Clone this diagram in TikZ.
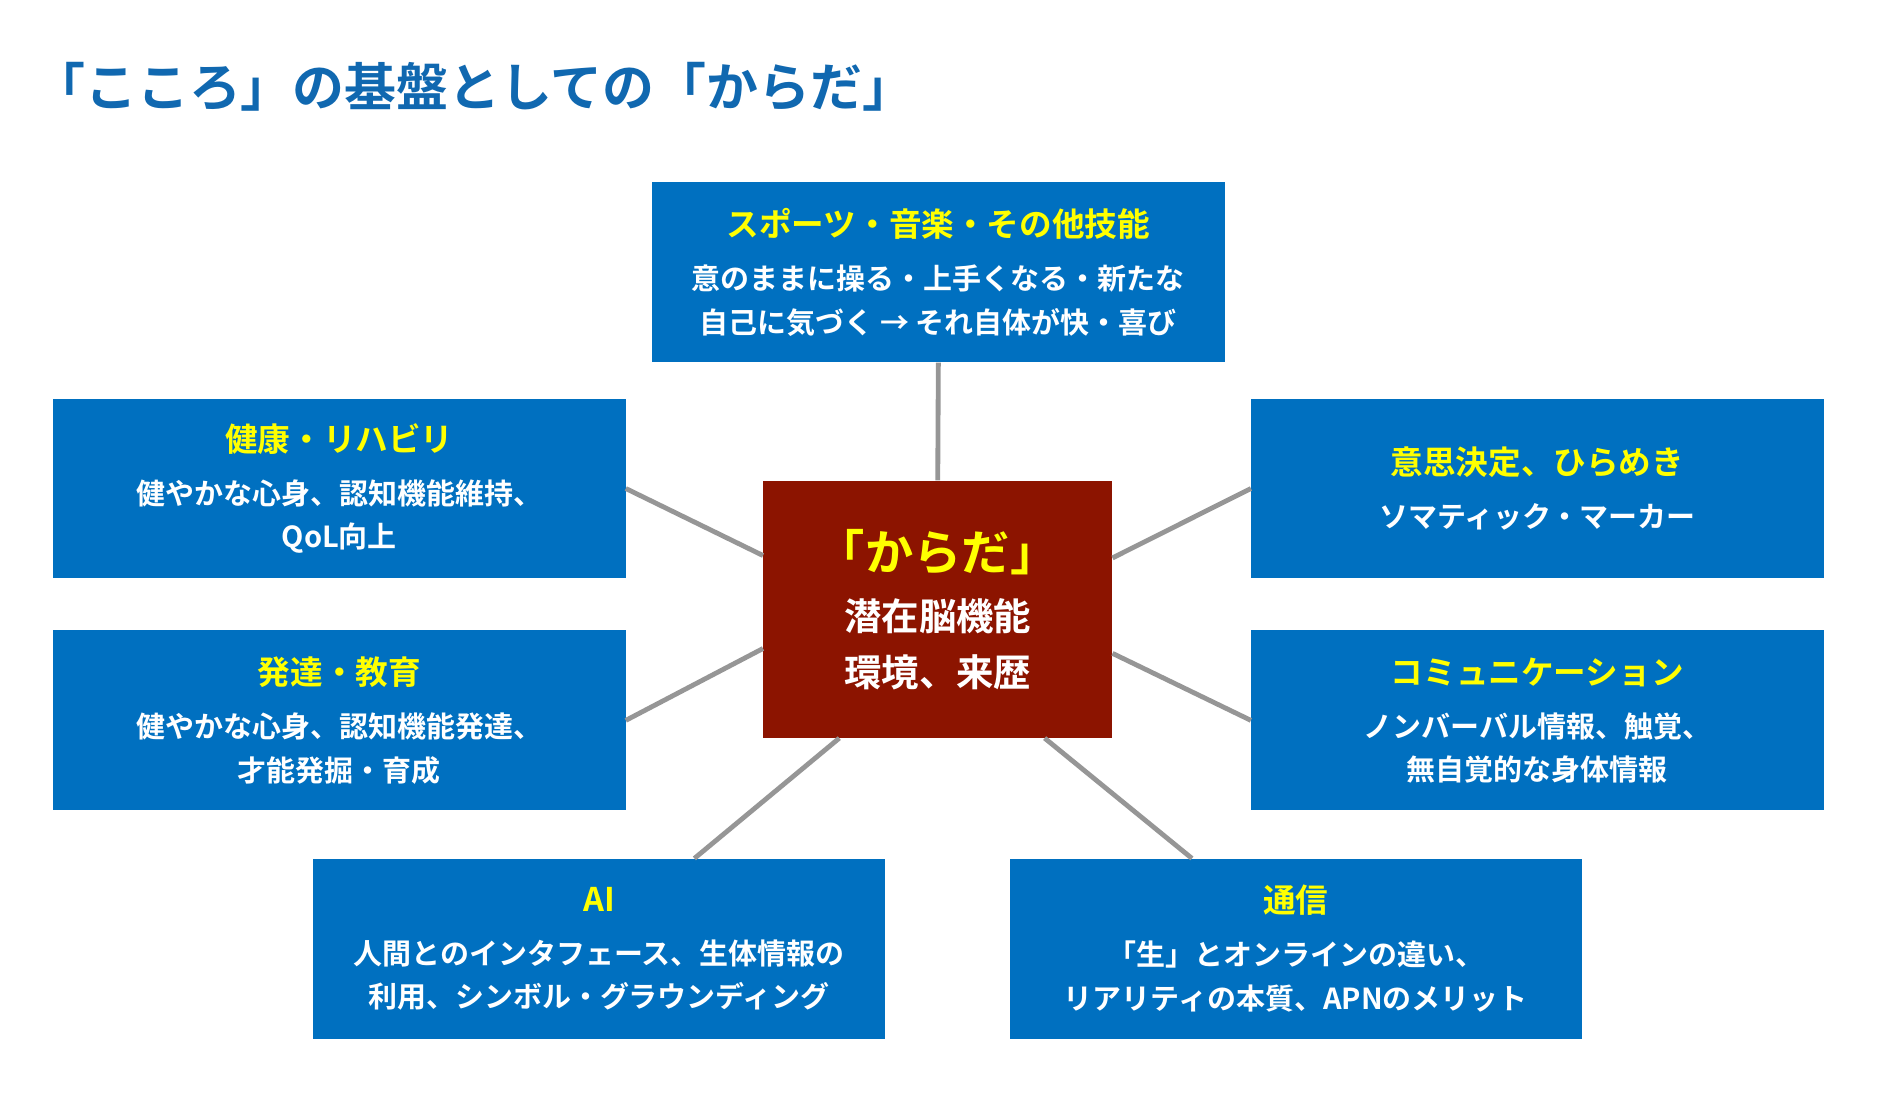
\documentclass[tikz,border=0pt]{standalone}
\usepackage{fontspec}
\setmainfont{Noto Sans CJK JP}[BoldFont={Noto Sans CJK JP Bold}]
\usetikzlibrary{calc}
\definecolor{bx}{RGB}{0,112,192}
\definecolor{ttl}{RGB}{16,104,176}
\definecolor{cr}{RGB}{140,20,0}
\definecolor{yl}{RGB}{255,255,0}
\definecolor{ln}{RGB}{150,150,150}
\begin{document}
\begin{tikzpicture}[x=1pt,y=-1pt,
 box/.style={fill=bx,minimum width=474pt,minimum height=149pt,inner sep=0pt,align=center,text=white,font=\bfseries\fontsize{24}{36}\selectfont},
 con/.style={draw=ln,line width=4pt}]
\useasboundingbox (0,0) rectangle (1570,911);
\node[anchor=west,text=ttl,font=\bfseries\fontsize{43}{46}\selectfont] (title) at (24,72) {「こころ」の基盤としての「からだ」};
\node[box] (top) at (777,225.5) {{\color{yl}\fontsize{27}{36}\selectfont スポーツ・音楽・その他技能}\\[8pt]意のままに操る・上手くなる・新たな\\自己に気づく → それ自体が快・喜び};
\node[box] (l1) at (281,404.5) {{\color{yl}\fontsize{27}{36}\selectfont 健康・リハビリ}\\[8pt]健やかな心身、認知機能維持、\\QoL向上};
\node[box] (l2) at (281,596.5) {{\color{yl}\fontsize{27}{36}\selectfont 発達・教育}\\[8pt]健やかな心身、認知機能発達、\\才能発掘・育成};
\node[box] (r1) at (1273,404.5) {{\color{yl}\fontsize{27}{36}\selectfont 意思決定、ひらめき}\\[8pt]ソマティック・マーカー};
\node[box] (r2) at (1273,596.5) {{\color{yl}\fontsize{27}{36}\selectfont コミュニケーション}\\[8pt]ノンバーバル情報、触覚、\\無自覚的な身体情報};
\node[box] (ai) at (496,785.5) {{\color{yl}\fontsize{27}{36}\selectfont AI}\\[8pt]人間とのインタフェース、生体情報の\\利用、シンボル・グラウンディング};
\node[box] (tc) at (1073,785.5) {{\color{yl}\fontsize{27}{36}\selectfont 通信}\\[8pt]「生」とオンラインの違い、\\リアリティの本質、APNのメリット};
\node[fill=cr,minimum width=289pt,minimum height=213pt,inner sep=0pt,align=center,text=white,font=\bfseries\fontsize{31}{46}\selectfont] (c) at (776.5,504.5) {{\color{yl}\fontsize{40}{46}\selectfont 「からだ」}\\[4pt]潜在脳機能\\環境、来歴};
\draw[con] (top.south) -- (c.north);
\draw[con] (l1.east) -- ([yshift=44.5pt]c.west);
\draw[con] (l2.east) -- ([yshift=-32.5pt]c.west);
\draw[con] (r1.west) -- ([yshift=42.5pt]c.east);
\draw[con] (r2.west) -- ([yshift=-36.5pt]c.east);
\draw[con] ([xshift=79pt]ai.north) -- ([xshift=-81.5pt]c.south);
\draw[con] ([xshift=-86pt]tc.north) -- ([xshift=88.5pt]c.south);
\end{tikzpicture}
\end{document}
